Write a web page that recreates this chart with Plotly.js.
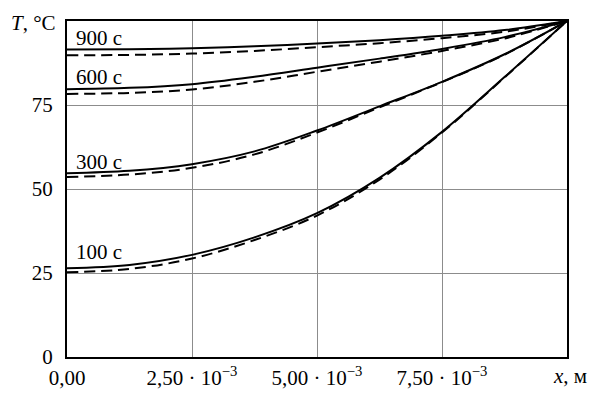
<!DOCTYPE html>
<html>
<head>
<meta charset="utf-8">
<script src="https://cdn.plot.ly/plotly-3.0.1.min.js"></script>
<style>html,body{margin:0;padding:0;background:#fff;}#chart{width:600px;height:393px;}</style>
</head>
<body>
<div id="chart"></div>
<script>
// Data
const xPos = [0, 0.00125, 0.0025, 0.00375, 0.005, 0.00625, 0.0075, 0.00875, 0.01];
const t900Solid  = [91.5, 91.6, 91.9, 92.5, 93.3, 94.3, 95.6, 97.3, 100];
const t900Dashed = [89.8, 89.9, 90.3, 91.1, 92.2, 93.4, 94.9, 96.8, 100];
const t600Solid  = [79.7, 80.1, 81.2, 83.4, 86.1, 88.8, 91.7, 95.2, 100];
const t600Dashed = [78.3, 78.6, 79.6, 81.9, 84.9, 87.9, 91.1, 94.8, 100];
const t300Solid  = [54.7, 55.4, 57.4, 61.2, 67.4, 74.6, 81.9, 90.1, 100];
const t300Dashed = [53.6, 54.3, 56.3, 60.3, 66.8, 74.3, 81.8, 90.0, 100];
const t100Solid  = [26.4, 27.4, 30.4, 35.6, 42.8, 53.3, 67.0, 83.3, 100];
const t100Dashed = [25.2, 26.2, 29.3, 34.8, 42.1, 52.8, 66.8, 83.2, 100];
const curveLabels = ["100 с", "300 с", "600 с", "900 с"];
const curveLabelT = [31.2, 58.0, 83.2, 94.8];
const xTickVals = [0, 0.0025, 0.005, 0.0075];
const xTickText = ["0,00", "2,50 · 10<sup>−3</sup>", "5,00 · 10<sup>−3</sup>", "7,50 · 10<sup>−3</sup>"];
const yTickVals = [0, 25, 50, 75];
const yTickText = ["0", "25", "50", "75"];

const FONT = "Liberation Serif, Times New Roman, serif";
const FS = 21;
const solidLine = {color: "#000", width: 2, shape: "spline", smoothing: 1};
const dashedLine = {color: "#000", width: 2, dash: "11px,6px", shape: "spline", smoothing: 1};

const series = [
  [t100Solid, t100Dashed], [t300Solid, t300Dashed],
  [t600Solid, t600Dashed], [t900Solid, t900Dashed]
];
const traces = [];
series.forEach(([s, d]) => {
  traces.push({x: xPos, y: d, mode: "lines", line: dashedLine, hoverinfo: "skip"});
  traces.push({x: xPos, y: s, mode: "lines", line: solidLine, hoverinfo: "skip"});
});

const annotations = curveLabels.map((t, i) => ({
  x: 0.00013, y: curveLabelT[i], xref: "x", yref: "y",
  text: t, showarrow: false, xanchor: "left", yanchor: "middle",
  font: {family: FONT, size: FS, color: "#000"}
}));
annotations.push({
  x: (58 - 67) / 500, y: 1 + (21 - 23) / 336, xref: "paper", yref: "paper",
  text: "<i>T</i>, °C", showarrow: false, xanchor: "right", yanchor: "middle",
  font: {family: FONT, size: FS, color: "#000"}
});
annotations.push({
  x: (570 - 67) / 500, y: -(376 - 357) / 336, xref: "paper", yref: "paper",
  text: "<i>x</i>, м", showarrow: false, xanchor: "center", yanchor: "middle",
  font: {family: FONT, size: FS, color: "#000"}
});

const layout = {
  width: 600, height: 393,
  margin: {l: 67, r: 33, t: 21, b: 36, pad: 0},
  paper_bgcolor: "#fff", plot_bgcolor: "#fff",
  showlegend: false,
  font: {family: FONT, size: FS, color: "#000"},
  xaxis: {
    range: [0, 0.01], tickvals: xTickVals, ticktext: xTickText,
    showgrid: true, gridcolor: "#8c8c8c", gridwidth: 1,
    showline: true, linecolor: "#000", linewidth: 2, mirror: true,
    zeroline: false, ticks: "outside", ticklen: 1, tickcolor: "rgba(0,0,0,0)",
    tickfont: {family: FONT, size: FS, color: "#000"}
  },
  yaxis: {
    range: [0, 100], tickvals: yTickVals, ticktext: yTickText,
    showgrid: true, gridcolor: "#8c8c8c", gridwidth: 1,
    showline: true, linecolor: "#000", linewidth: 2, mirror: true,
    zeroline: false, ticks: "outside", ticklen: 8, tickcolor: "rgba(0,0,0,0)",
    tickfont: {family: FONT, size: FS, color: "#000"}
  },
  annotations: annotations
};

Plotly.newPlot("chart", traces, layout, {staticPlot: true, displayModeBar: false});
</script>
</body>
</html>
